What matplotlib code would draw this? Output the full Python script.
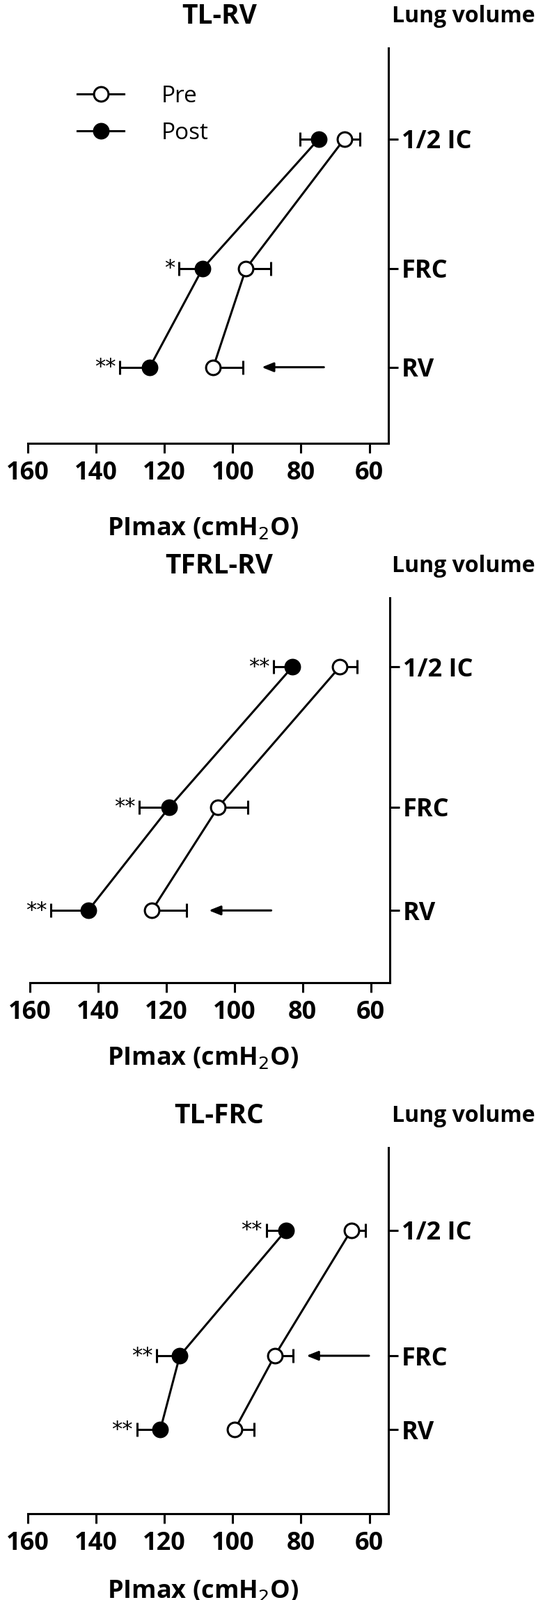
import numpy as np
import matplotlib.pyplot as plt
from matplotlib.lines import Line2D

plt.rcParams["font.family"] = "Open Sans"

# volume labels (bottom to top)
volumes = ["RV", "FRC", "1/2 IC"]

# panel 1: TL-RV
p1_y = [0, 1, 2.31]
p1_pre = [105.7, 96.1, 67.3]
p1_pre_err = [8.6, 7.3, 4.6]
p1_post = [124.3, 108.8, 74.8]
p1_post_err = [8.7, 6.9, 5.5]
p1_stars = ["**", "*", ""]

# panel 2: TFRL-RV
p2_y = [0, 1, 2.36]
p2_pre = [124.2, 104.8, 69.1]
p2_pre_err = [10.1, 8.7, 5.0]
p2_post = [142.9, 119.1, 83.0]
p2_post_err = [10.9, 8.8, 5.5]
p2_stars = ["**", "**", "**"]

# panel 3: TL-FRC
p3_y = [0, 1, 2.70]
p3_pre = [99.4, 87.7, 65.3]
p3_pre_err = [5.7, 5.3, 4.2]
p3_post = [121.2, 115.5, 84.4]
p3_post_err = [6.8, 6.7, 5.7]
p3_stars = ["**", "**", "**"]

panels = [
    # title, y, pre, pre_err, post, post_err, stars, arrow (idx, x_from, x_to), axes px (left, top, right, bottom), ylim, xlabel offset
    ("TL-RV", p1_y, p1_pre, p1_pre_err, p1_post, p1_post_err, p1_stars, (0, 73.3, 91.5), (40, 69, 558, 637), (-0.77, 3.23), 123),
    ("TFRL-RV", p2_y, p2_pre, p2_pre_err, p2_post, p2_post_err, p2_stars, (0, 89.2, 107.5), (43, 859, 560, 1412), (-0.70, 3.03), 109),
    ("TL-FRC", p3_y, p3_pre, p3_pre_err, p3_post, p3_post_err, p3_stars, (1, 60.1, 78.4), (40, 1649, 558, 2175), (-1.14, 3.82), 112),
]

W, H = 793, 2299
fig = plt.figure(figsize=(W / 100, H / 100), dpi=100)
lw = 2.2

for i, (title, y, pre, pre_e, post, post_e, stars, arrow, box, ylim, xl_off) in enumerate(panels):
    l, t, r, b = box
    ax = fig.add_axes([l / W, 1 - b / H, (r - l) / W, (b - t) / H])
    ax.set_xlim(160, 54.4)
    ax.set_ylim(*ylim)

    ax.errorbar(post, y, xerr=[[0] * 3, post_e], fmt="o-", color="black", mfc="black",
                ms=15, lw=lw, elinewidth=lw, capsize=7, capthick=lw, mew=lw, zorder=3)
    ax.errorbar(pre, y, xerr=[pre_e, [0] * 3], fmt="o-", color="black", mfc="white",
                ms=15, lw=lw, elinewidth=lw, capsize=7, capthick=lw, mew=lw, zorder=4)

    for yy, xx, e, s in zip(y, post, post_e, stars):
        if s:
            ax.text(xx + e + 1.2, yy, s, ha="right", va="center", fontsize=22,
                    family="DejaVu Sans", color="black")

    idx, x0, x1 = arrow
    ax.annotate("", xy=(x1, y[idx]), xytext=(x0, y[idx]),
                arrowprops=dict(arrowstyle="-|>,head_length=1.0,head_width=0.4", lw=lw, color="black",
                                shrinkA=0, shrinkB=0))

    for side in ["top", "left"]:
        ax.spines[side].set_visible(False)
    for side in ["bottom", "right"]:
        ax.spines[side].set_linewidth(lw)
    ax.yaxis.tick_right()
    ax.set_yticks(y)
    ax.set_yticklabels(volumes, fontsize=26, fontweight="bold")
    ax.set_xticks([160, 140, 120, 100, 80, 60])
    ax.tick_params(axis="both", width=lw, length=10, labelsize=26, direction="out")
    ax.tick_params(axis="x", pad=8)
    for lab in ax.get_xticklabels():
        lab.set_fontweight("bold")

    fig.text(292 / W, 1 - (b + xl_off) / H, "PImax (cmH$_2$O)", fontsize=26, fontweight="bold",
             ha="center", va="center")
    fig.text(315 / W, 1 - (t - 46) / H, title, fontsize=28, fontweight="bold", ha="center", va="center")
    fig.text(563 / W, 1 - (t - 46) / H, "Lung volume", fontsize=23, fontweight="bold", va="center", ha="left")

    if i == 0:
        handles = [Line2D([], [], color="black", lw=lw, marker="o", mfc="white", ms=15, mew=lw),
                   Line2D([], [], color="black", lw=lw, marker="o", mfc="black", ms=15, mew=lw)]
        ax.legend(handles, ["Pre", "Post"], loc="upper left", bbox_to_anchor=(0.08, 0.96), frameon=False,
                  fontsize=24, handlelength=2.0, handletextpad=1.6, labelspacing=0.6)

fig.savefig("out.png", dpi=100)
